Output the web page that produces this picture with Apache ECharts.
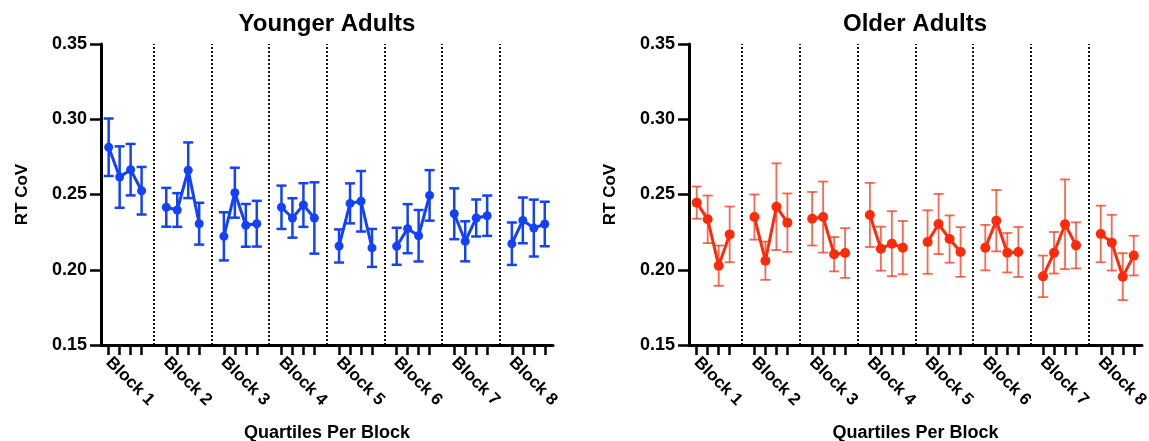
<!DOCTYPE html>
<html>
<head>
<meta charset="utf-8">
<script src="https://cdn.jsdelivr.net/npm/echarts@6/dist/echarts.min.js"></script>
<style>
  html, body { margin: 0; padding: 0; background: #fff; }
  #chart { width: 1149px; height: 441px; }
</style>
</head>
<body>
<div id="chart"></div>
<script>
// 数据：每个 block 4 个四分位点
const blocks = ['Block 1', 'Block 2', 'Block 3', 'Block 4', 'Block 5', 'Block 6', 'Block 7', 'Block 8'];
const quartiles = ['Q1', 'Q2', 'Q3', 'Q4'];

const youngMean = [
  0.2814, 0.2616, 0.2665, 0.2525,
  0.2415, 0.2397, 0.2661, 0.2306,
  0.2222, 0.2512, 0.2295, 0.2306,
  0.2415, 0.2344, 0.2430, 0.2344,
  0.2158, 0.2441, 0.2455, 0.2145,
  0.2156, 0.2273, 0.2226, 0.2494,
  0.2372, 0.2189, 0.2344, 0.2359,
  0.2173, 0.2328, 0.2277, 0.2304
];
const youngSem = [
  0.0191, 0.0204, 0.0171, 0.0158,
  0.0129, 0.0112, 0.0185, 0.0139,
  0.0160, 0.0166, 0.0142, 0.0152,
  0.0144, 0.0131, 0.0145, 0.0237,
  0.0110, 0.0133, 0.0201, 0.0126,
  0.0123, 0.0163, 0.0171, 0.0168,
  0.0169, 0.0133, 0.0123, 0.0134,
  0.0141, 0.0152, 0.0189, 0.0148
];
const oldMean = [
  0.2446, 0.2335, 0.2027, 0.2235,
  0.2350, 0.2060, 0.2419, 0.2313,
  0.2339, 0.2350, 0.2103, 0.2111,
  0.2364, 0.2140, 0.2173, 0.2147,
  0.2184, 0.2304, 0.2204, 0.2118,
  0.2147, 0.2326, 0.2113, 0.2118,
  0.1956, 0.2113, 0.2302, 0.2162,
  0.2238, 0.2180, 0.1954, 0.2094
];
const oldSem = [
  0.0107, 0.0158, 0.0134, 0.0185,
  0.0150, 0.0127, 0.0288, 0.0194,
  0.0178, 0.0236, 0.0114, 0.0165,
  0.0213, 0.0146, 0.0216, 0.0177,
  0.0211, 0.0200, 0.0157, 0.0165,
  0.0151, 0.0204, 0.0131, 0.0166,
  0.0138, 0.0138, 0.0298, 0.0153,
  0.0188, 0.0185, 0.0156, 0.0132
];

const BLUE = '#1242ff';
const RED = '#ff2a0a';
const FONT = 'Liberation Sans, Arial, Helvetica, sans-serif';

// x 位置：block 之间留空
const blockStep = 5.25;
const xPos = [];
blocks.forEach((b, bi) => quartiles.forEach((q, qi) => xPos.push(bi * blockStep + qi)));
const blockStart = blocks.map((b, bi) => bi * blockStep);
const separators = blocks.slice(1).map((b, bi) => (bi + 1) * blockStep - 1.125);

const grids = [
  { left: 101, top: 44, width: 452, height: 301, outerBoundsMode: 'none' },
  { left: 689, top: 44, width: 453, height: 301, outerBoundsMode: 'none' }
];

function xAxisOf(idx) {
  return {
    type: 'value', gridIndex: idx, min: -0.7, max: 40.5,
    name: 'Quartiles Per Block', nameLocation: 'middle', nameGap: 79,
    nameTextStyle: { fontFamily: FONT, fontWeight: 'bold', fontSize: 18, color: '#000' },
    axisLine: { onZero: false, lineStyle: { color: '#000', width: 3 } },
    axisTick: { show: true, length: 10, customValues: xPos, lineStyle: { color: '#000', width: 2.5 } },
    axisLabel: {
      customValues: blockStart, rotate: -45, margin: 15,
      fontFamily: FONT, fontWeight: 'bold', fontSize: 17, color: '#000',
      formatter: v => blocks[Math.round(v / blockStep)]
    },
    splitLine: { show: false }
  };
}

function yAxisOf(idx) {
  return {
    type: 'value', gridIndex: idx, min: 0.15, max: 0.35, interval: 0.05,
    name: 'RT CoV', nameLocation: 'middle', nameGap: 70,
    nameTextStyle: { fontFamily: FONT, fontWeight: 'bold', fontSize: 17, color: '#000' },
    axisLine: { show: true, onZero: false, lineStyle: { color: '#000', width: 3 } },
    axisTick: { show: true, length: 11, lineStyle: { color: '#000', width: 2.5 } },
    axisLabel: {
      margin: 14, fontFamily: FONT, fontWeight: 'bold', fontSize: 18, color: '#000',
      formatter: v => v.toFixed(2)
    },
    splitLine: { show: false }
  };
}

function errorSeries(idx, means, sems, color, width) {
  return {
    type: 'custom', xAxisIndex: idx, yAxisIndex: idx, z: 1, silent: true,
    data: means.map((m, i) => [xPos[i], m - sems[i], m + sems[i]]),
    encode: { x: 0, y: [1, 2] },
    renderItem: (params, api) => {
      const x = api.value(0);
      const lo = api.coord([x, api.value(1)]);
      const hi = api.coord([x, api.value(2)]);
      const cap = 5;
      const style = { stroke: color, lineWidth: width };
      return {
        type: 'group',
        children: [
          { type: 'line', shape: { x1: lo[0], y1: lo[1], x2: hi[0], y2: hi[1] }, style },
          { type: 'line', shape: { x1: hi[0] - cap, y1: hi[1], x2: hi[0] + cap, y2: hi[1] }, style },
          { type: 'line', shape: { x1: lo[0] - cap, y1: lo[1], x2: lo[0] + cap, y2: lo[1] }, style }
        ]
      };
    }
  };
}

function lineSeries(idx, means, color, size) {
  return blocks.map((b, bi) => {
    const s = {
      type: 'line', xAxisIndex: idx, yAxisIndex: idx, z: 3, silent: true,
      symbol: 'circle', symbolSize: size,
      itemStyle: { color: color },
      lineStyle: { color: color, width: 3 },
      data: quartiles.map((q, qi) => [xPos[bi * 4 + qi], means[bi * 4 + qi]])
    };
    if (bi === 0) {
      // block 之间的虚线分隔
      s.markLine = {
        silent: true, symbol: 'none', animation: false,
        label: { show: false },
        lineStyle: { color: '#000', type: [2, 2], width: 1.8 },
        data: separators.map(v => ({ xAxis: v }))
      };
    }
    return s;
  });
}

const chart = echarts.init(document.getElementById('chart'));
chart.setOption({
  animation: false,
  title: [
    { text: 'Younger Adults', left: 327, top: 12, textAlign: 'center', padding: 0,
      textStyle: { fontFamily: FONT, fontWeight: 'bold', fontSize: 24, color: '#000' } },
    { text: 'Older Adults', left: 915, top: 12, textAlign: 'center', padding: 0,
      textStyle: { fontFamily: FONT, fontWeight: 'bold', fontSize: 24, color: '#000' } }
  ],
  grid: grids,
  xAxis: [xAxisOf(0), xAxisOf(1)],
  yAxis: [yAxisOf(0), yAxisOf(1)],
  series: [
    errorSeries(0, youngMean, youngSem, BLUE, 2.5),
    ...lineSeries(0, youngMean, BLUE, 9),
    errorSeries(1, oldMean, oldSem, 'rgba(255,50,20,0.75)', 1.8),
    ...lineSeries(1, oldMean, RED, 10)
  ]
});
</script>
</body>
</html>
